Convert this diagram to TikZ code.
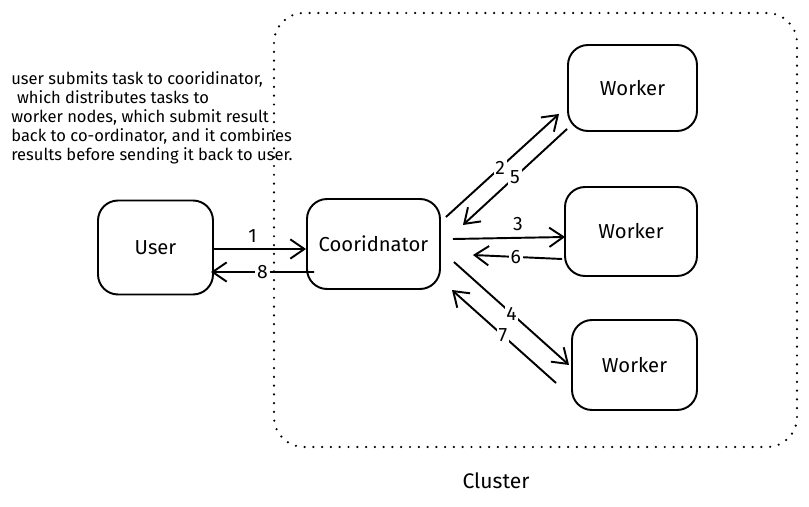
\documentclass[tikz,border=0pt]{standalone}
\usepackage{fontspec}
\setmainfont{Fira Sans}
\usetikzlibrary{calc, arrows.meta}

\begin{document}
\begin{tikzpicture}[x=0.02cm, y=0.02cm,
        box/.style={draw, rounded corners=0.4cm, line width=1.1pt, inner sep=0pt, font=\fontsize{11.5}{13}\selectfont},
        arr/.style={draw, line width=1.1pt, -{Straight Barb[length=8pt, width=11pt]}},
        num/.style={fill=white, inner sep=1pt, font=\fontsize{11}{13}\selectfont}]
            \useasboundingbox (0,0) rectangle (809,-507);
            % the cluster
            \draw [dash pattern=on 0pt off 5pt, line cap=round, line width=1.4pt, rounded corners=0.6cm] (274,-13) rectangle (797,-447);
            \node [font=\fontsize{12}{14}\selectfont] (cluster) at (496,-481) {Cluster};
            \node [align=left, anchor=north west, inner sep=0pt, font=\fontsize{9.4}{10.8}\selectfont] (note) at (11,-71)
                {user submits task to cooridinator,\\ \hspace{0.35em}which distributes tasks to\\ worker nodes, which submit result\\ back to co-ordinator, and it combines\\ results before sending it back to user.};
            % nodes
            \node [box, minimum width=2.3cm, minimum height=1.88cm] (user) at (155.5,-247.5) {User};
            \node [box, minimum width=2.66cm, minimum height=1.8cm] (coord) at (373.5,-244) {Cooridnator};
            \node [box, minimum width=2.58cm, minimum height=1.72cm] (w1) at (632.5,-88) {Worker};
            \node [box, minimum width=2.64cm, minimum height=1.78cm] (w2) at (631,-231.5) {Worker};
            \node [box, minimum width=2.5cm, minimum height=1.8cm] (w3) at (634.5,-365) {Worker};
            % arrows
            \path [arr] ($(user.east)+(0,-1.5)$) -- node [pos=0.42, above, font=\fontsize{11}{13}\selectfont] {1} ($(coord.west)+(0,-5)$);
            \path [arr] ($(coord.west)+(8,-28)$) -- node [num, pos=0.5] {8} ($(user.east)+(-3,-24.5)$);
            \path [arr] ($(coord.east)+(5,27)$) -- node [num, pos=0.48] {2} ($(w1.south west)+(-8,18)$);
            \path [arr] ($(w1.south west)+(0,3)$) -- node [num, pos=0.5] {5} ($(coord.east)+(22,19)$);
            \path [arr] ($(coord.east)+(12,5)$) -- node [pos=0.58, above, font=\fontsize{11}{13}\selectfont] {3} ($(w2.west)+(1,-5.5)$);
            \path [arr] ($(w2.west)+(-2,-27.5)$) -- node [num, pos=0.52] {6} ($(coord.east)+(32,-11)$);
            \path [arr] ($(coord.east)+(13,-18)$) -- node [num, pos=0.5] {4} ($(w3.west)+(-2,0)$);
            \path [arr] ($(w3.west)+(-15,-18)$) -- node [num, pos=0.51] {7} ($(coord.east)+(11,-46)$);
        \end{tikzpicture}
\end{document}
